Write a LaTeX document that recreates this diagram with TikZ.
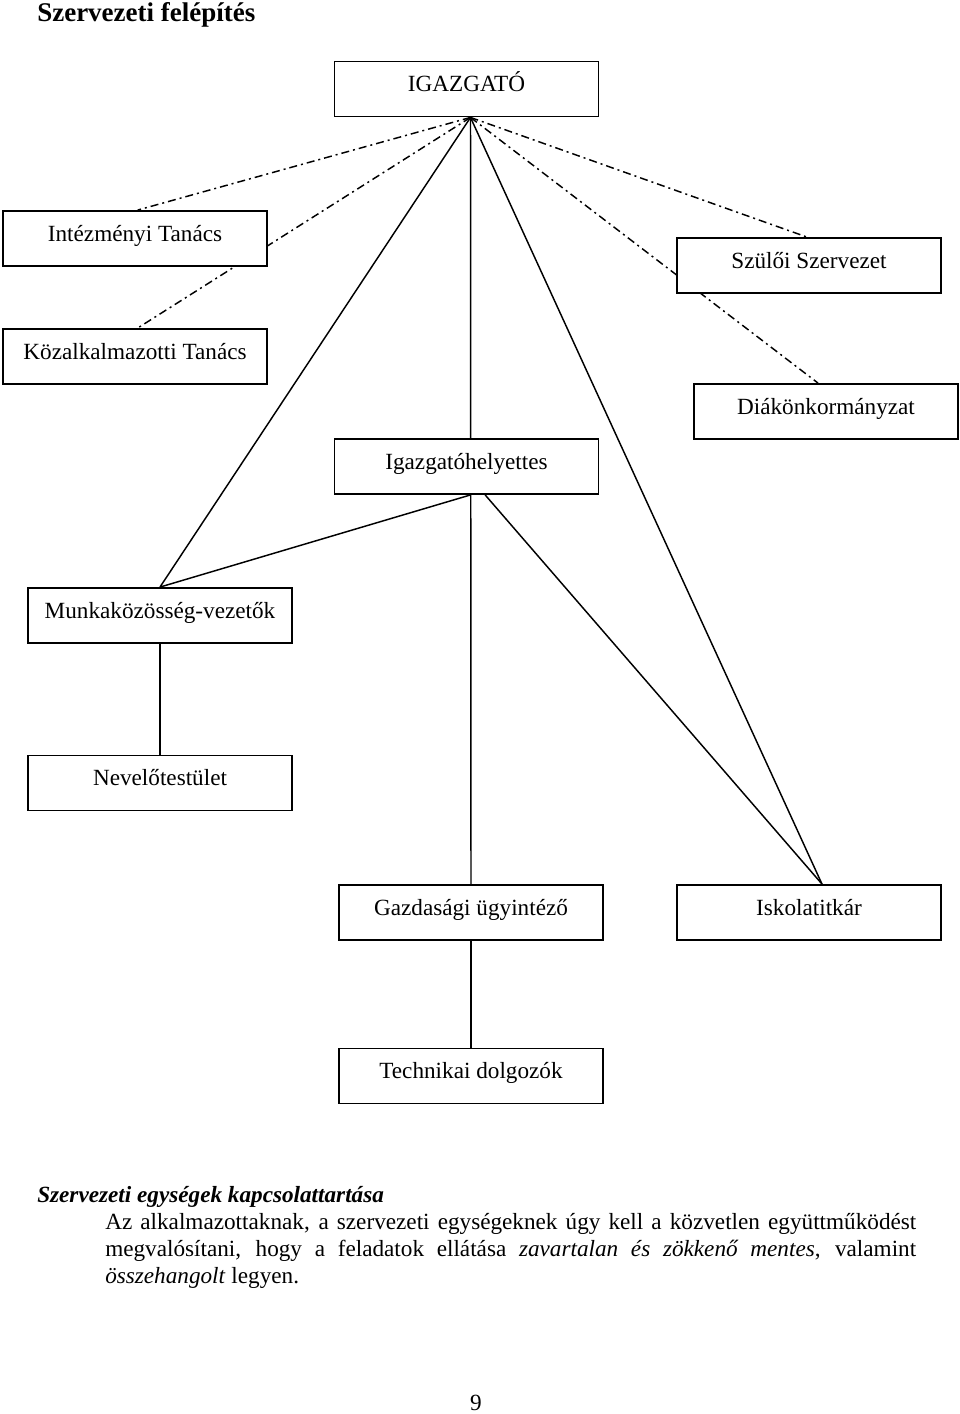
\documentclass[tikz,border=0pt]{standalone}
\usepackage{fontspec}
\setmainfont{Liberation Serif}
\usetikzlibrary{backgrounds}
\newcommand{\fsz}{\fontsize{17.4}{20.25}\selectfont}
\begin{document}
\begin{tikzpicture}[x=0.75pt,y=-0.75pt,
  box/.style={draw, fill=white, line width=1.4pt, minimum width=198pt, minimum height=41.25pt,
    inner sep=0pt, text height=3.75pt, text depth=0pt, font=\fsz},
  solidline/.style={line width=1.1pt},
  dashdot/.style={line width=1.1pt, dash pattern=on 6pt off 3pt on 1.5pt off 3pt},
  plain/.style={inner sep=0pt, font=\fsz}]
\useasboundingbox (0,0) rectangle (960,1414);

\node[plain, anchor=base west, font=\bfseries\fontsize{20.25}{24}\selectfont] (title) at (37,21) {Szervezeti felépítés};

\node[box] (igazgato) at (466.5,89) {IGAZGATÓ};
\node[box] (intez) at (135,238.5) {Intézményi Tanács};
\node[box] (szuloi) at (809,265.5) {Szülői Szervezet};
\node[box] (kozalk) at (135,356.5) {Közalkalmazotti Tanács};
\node[box] (diak) at (826,411.5) {Diákönkormányzat};
\node[box] (helyettes) at (466.5,466.5) {Igazgatóhelyettes};
\node[box] (munka) at (160,615.5) {Munkaközösség-vezetők};
\node[box] (nevelo) at (160,783) {Nevelőtestület};
\node[box] (gazd) at (471,912.5) {Gazdasági ügyintéző};
\node[box] (iskola) at (809,912.5) {Iskolatitkár};
\node[box] (techn) at (471,1076) {Technikai dolgozók};

\coordinate (hub) at ([xshift=3pt]igazgato.south);

\begin{pgfonlayer}{background}
  \draw[dashdot] (hub) -- ([xshift=2pt]intez.north);
  \draw[dashdot] (hub) -- ([xshift=2pt]kozalk.north);
  \draw[dashdot] (hub) -- ([xshift=-1.5pt]szuloi.north);
  \draw[dashdot] (hub) -- ([xshift=-6pt]diak.north);
  \draw[solidline] (hub) -- (munka.north);
  \draw[solidline] (hub) -- (gazd.north);
  \draw[solidline] (hub) -- ([xshift=9.75pt]iskola.north);
  \draw[solidline] ([xshift=3pt]helyettes.south) -- (munka.north);
  \draw[solidline] ([xshift=14pt]helyettes.south) -- ([xshift=9.75pt]iskola.north);
  \draw[solidline] (munka.south) -- (nevelo.north);
  \draw[solidline] (gazd.south) -- (techn.north);
\end{pgfonlayer}

\node[plain, anchor=base west, font=\bfseries\itshape\fsz] (head) at (37,1202) {Szervezeti egységek kapcsolattartása};
\node[plain, anchor=base west, text width=608.25pt, align=justify] (para) at (105,1229)
  {Az alkalmazottaknak, a szervezeti egységeknek úgy kell a közvetlen együttműködést\linebreak
   megvalósítani, hogy a feladatok ellátása \textit{zavartalan és zökkenő mentes}, valamint\linebreak
   \textit{összehangolt} legyen.};
\node[plain, anchor=base] (pagenum) at (476,1410.5) {9};
\end{tikzpicture}
\end{document}
